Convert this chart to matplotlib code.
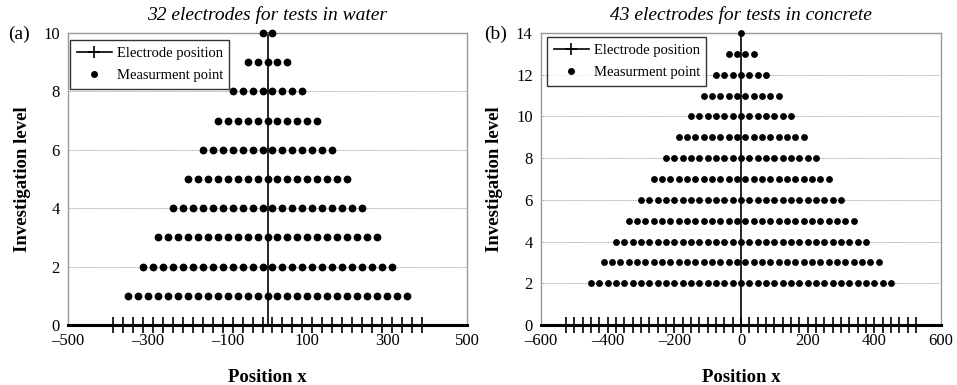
import matplotlib
matplotlib.use("Agg")
import matplotlib.pyplot as plt
from matplotlib.lines import Line2D

plt.rcParams["font.family"] = ["Liberation Serif", "DejaVu Serif"]

# Electrode positions (spacing 25) for the two set-ups
electrodes_water = [-387.5, -362.5, -337.5, -312.5, -287.5, -262.5, -237.5, -212.5,
                    -187.5, -162.5, -137.5, -112.5, -87.5, -62.5, -37.5, -12.5,
                    12.5, 37.5, 62.5, 87.5, 112.5, 137.5, 162.5, 187.5,
                    212.5, 237.5, 262.5, 287.5, 312.5, 337.5, 362.5, 387.5]
electrodes_concrete = [-525, -500, -475, -450, -425, -400, -375, -350, -325, -300,
                       -275, -250, -225, -200, -175, -150, -125, -100, -75, -50,
                       -25, 0, 25, 50, 75, 100, 125, 150, 175, 200,
                       225, 250, 275, 300, 325, 350, 375, 400, 425, 450,
                       475, 500, 525]

# Investigation levels shown on each pseudo-section
levels_water = [1, 2, 3, 4, 5, 6, 7, 8, 9, 10]
levels_concrete = [2, 3, 4, 5, 6, 7, 8, 9, 10, 11, 12, 13, 14]

titles = ["32 electrodes for tests in water", "43 electrodes for tests in concrete"]
panel_tags = ["(a)", "(b)"]
xticks_water = [-500, -300, -100, 100, 300, 500]
xticks_concrete = [-600, -400, -200, 0, 200, 400, 600]
yticks_water = [0, 2, 4, 6, 8, 10]
yticks_concrete = [0, 2, 4, 6, 8, 10, 12, 14]


def wenner_points(electrodes, level):
    """Centres of every 4-electrode Wenner array with a-spacing = level."""
    span = 3 * level
    return [(electrodes[i] + electrodes[i + span]) / 2
            for i in range(len(electrodes) - span)]


fig = plt.figure(figsize=(9.57, 3.85), dpi=100)
ax_a = fig.add_axes([68 / 957, 60 / 385, 399 / 957, 292 / 385])
ax_b = fig.add_axes([541 / 957, 60 / 385, 400 / 957, 292 / 385])

panels = [
    (ax_a, electrodes_water, levels_water, xticks_water, yticks_water, 4.6,
     (2 / 399, 1 - 7 / 292)),
    (ax_b, electrodes_concrete, levels_concrete, xticks_concrete, yticks_concrete, 3.9,
     (6 / 400, 1 - 4 / 292)),
]

for k, (ax, elec, levels, xt, yt, dot, leg_anchor) in enumerate(panels):
    xlim = (xt[0], xt[-1])
    ylim = (yt[0], yt[-1])
    ax.set_xlim(*xlim)
    ax.set_ylim(*ylim)
    ax.set_xticks(xt)
    ax.set_yticks(yt)
    ax.set_xticklabels([f"{v:d}".replace("-", "\u2013") for v in xt])
    ax.tick_params(length=0, labelsize=12, pad=6)
    for s in ax.spines.values():
        s.set_color("#999999")
        s.set_linewidth(1.0)

    # dotted horizontal grid
    for y in yt[1:]:
        ax.axhline(y, color="#888888", lw=0.6, ls=(0, (1, 1)), zorder=0)

    # centre line
    ax.plot([0, 0], [ylim[0], ylim[1]], color="black", lw=1.2, zorder=2,
            clip_on=False)
    # ground line with electrodes
    ax.plot(xlim, [0, 0], color="black", lw=2.2, zorder=3, clip_on=False)
    ax.plot(elec, [0] * len(elec), ls="none", marker="|", ms=11, mew=1.2,
            color="black", zorder=4, clip_on=False)

    # measurement points
    for lv in levels:
        xs = wenner_points(elec, lv)
        ax.plot(xs, [lv] * len(xs), ls="none", marker="o", ms=dot,
                color="black", zorder=5, clip_on=False)

    ax.set_title(titles[k], fontstyle="italic", fontsize=14, pad=9)
    ax.set_xlabel("Position x", fontsize=13.5, fontweight="bold", labelpad=14)
    ax.set_ylabel("Investigation level", fontsize=13.5, fontweight="bold",
                  labelpad=9)

    handles = [
        Line2D([], [], color="black", lw=1.2, marker="+", ms=8, mew=1.2),
        Line2D([], [], color="black", ls="none", marker="o", ms=4),
    ]
    leg = ax.legend(handles, ["Electrode position", "Measurment point"],
                    loc="upper left", bbox_to_anchor=leg_anchor,
                    borderaxespad=0, fontsize=10.5, frameon=True, fancybox=False,
                    edgecolor="black", handlelength=2.4,
                    handletextpad=0.35, borderpad=0.45, labelspacing=0.65)
    leg.get_frame().set_linewidth(1.0)
    leg.set_zorder(10)

fig.text(8 / 957, 1 - 34 / 385, panel_tags[0], fontsize=14, va="center")
fig.text(484 / 957, 1 - 34 / 385, panel_tags[1], fontsize=14, va="center")

fig.savefig("out.png", dpi=100)
